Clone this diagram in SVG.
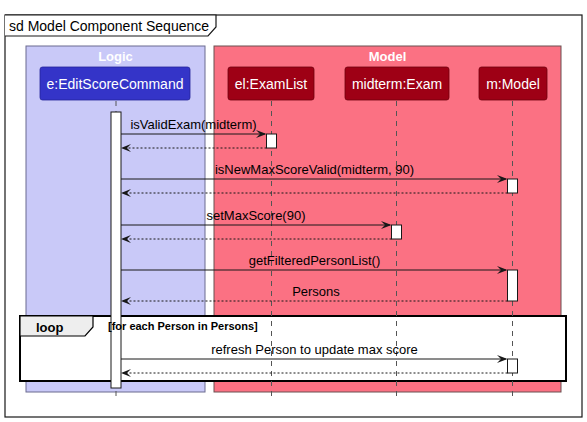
<svg xmlns="http://www.w3.org/2000/svg" width="587" height="422" viewBox="0 0 587 422">
<style>
text{font-family:"Liberation Sans",Arial,sans-serif}
.frame{fill:#fff;stroke:#181818;stroke-width:1.2}
.boxtitle{font-size:13px;font-weight:bold;fill:#fff;text-anchor:middle}
.part rect{stroke-width:0.8}
.part text{font-size:14px;fill:#fff;text-anchor:middle}
.pblue{fill:#3434C8;stroke:#24249A}
.pred{fill:#9E0015;stroke:#6E000E}
.life{stroke:#555;stroke-width:1;stroke-dasharray:5,5;fill:none}
.act{fill:#fff;stroke:#181818;stroke-width:1}
.msg{stroke:#181818;stroke-width:1;fill:none}
.ret{stroke:#181818;stroke-width:1;stroke-dasharray:2,2;fill:none}
.lbl{font-size:13px;fill:#000;text-anchor:middle}
.head{fill:#181818}
</style>
<rect class="frame" x="5" y="15" width="577" height="402"/>
<path d="M5,15 H216 V27 L208,36 H5" fill="#fff" stroke="#181818" stroke-width="1.2"/>
<text x="9" y="31" font-size="14" fill="#000">sd Model Component Sequence</text>

<g id="box-logic">
<rect x="26" y="46" width="179" height="346" fill="#C9C9F8" stroke="#6B6B8F" stroke-width="1"/>
<text class="boxtitle" x="115.5" y="61">Logic</text>
</g>
<g id="box-model">
<rect x="214" y="46" width="347" height="346" fill="#FB7183" stroke="#6B5050" stroke-width="1"/>
<text class="boxtitle" x="387.5" y="61">Model</text>
</g>

<g id="loop">
<rect x="20" y="316" width="546" height="65" fill="#fff" stroke="#000" stroke-width="2"/>
<path d="M20,316 H93 V327 L85,336 H20 Z" fill="#EEEEEE" stroke="#000" stroke-width="1.2"/>
<text x="36" y="332" font-size="13" font-weight="bold" fill="#000">loop</text>
</g>

<g id="lifelines">
<line class="life" x1="116" y1="101" x2="116" y2="397"/>
<line class="life" x1="271.5" y1="101" x2="271.5" y2="397"/>
<line class="life" x1="396.5" y1="101" x2="396.5" y2="397"/>
<line class="life" x1="512.5" y1="101" x2="512.5" y2="397"/>
</g>

<g id="p-editscore" class="part">
<rect class="pblue" x="40" y="67" width="150" height="33" rx="2.5"/>
<text x="115" y="89">e:EditScoreCommand</text>
</g>
<g id="p-examlist" class="part">
<rect class="pred" x="228" y="67" width="86" height="33" rx="2.5"/>
<text x="271" y="89">el:ExamList</text>
</g>
<g id="p-midterm" class="part">
<rect class="pred" x="345" y="67" width="104" height="33" rx="2.5"/>
<text x="397" y="89">midterm:Exam</text>
</g>
<g id="p-model" class="part">
<rect class="pred" x="479" y="67" width="68" height="33" rx="2.5"/>
<text x="513" y="89">m:Model</text>
</g>

<g id="activations">
<rect class="act" x="111" y="112" width="10" height="276"/>
<rect class="act" x="266.5" y="134" width="10" height="14"/>
<rect class="act" x="507.5" y="179" width="10" height="14"/>
<rect class="act" x="391.5" y="225" width="10" height="14"/>
<rect class="act" x="507.5" y="270" width="10" height="31"/>
<rect class="act" x="507.5" y="359" width="10" height="14"/>
</g>

<text x="108" y="330" font-size="11" font-weight="bold" fill="#000">[for each Person in Persons]</text>

<g id="connectors">
<line class="msg" x1="121" y1="134" x2="265" y2="134"/>
<path class="head" d="M266.5,134 L256,130 L260,134 L256,138 Z"/>
<line class="ret" x1="266.5" y1="148" x2="123" y2="148"/>
<path class="head" d="M121,148 L131,144 L127,148 L131,152 Z"/>

<line class="msg" x1="121" y1="179" x2="506" y2="179"/>
<path class="head" d="M507.5,179 L497,175 L501,179 L497,183 Z"/>
<line class="ret" x1="507.5" y1="193" x2="123" y2="193"/>
<path class="head" d="M121,193 L131,189 L127,193 L131,197 Z"/>

<line class="msg" x1="121" y1="225" x2="390" y2="225"/>
<path class="head" d="M391.5,225 L381,221 L385,225 L381,229 Z"/>
<line class="ret" x1="391.5" y1="239" x2="123" y2="239"/>
<path class="head" d="M121,239 L131,235 L127,239 L131,243 Z"/>

<line class="msg" x1="121" y1="270" x2="506" y2="270"/>
<path class="head" d="M507.5,270 L497,266 L501,270 L497,274 Z"/>
<line class="ret" x1="507.5" y1="301" x2="123" y2="301"/>
<path class="head" d="M121,301 L131,297 L127,301 L131,305 Z"/>

<line class="msg" x1="121" y1="359" x2="506" y2="359"/>
<path class="head" d="M507.5,359 L497,355 L501,359 L497,363 Z"/>
<line class="ret" x1="507.5" y1="373" x2="123" y2="373"/>
<path class="head" d="M121,373 L131,369 L127,373 L131,377 Z"/>

<text class="lbl" x="193.5" y="129">isValidExam(midterm)</text>
<text class="lbl" x="314.5" y="174">isNewMaxScoreValid(midterm, 90)</text>
<text class="lbl" x="256" y="220">setMaxScore(90)</text>
<text class="lbl" x="314.5" y="265">getFilteredPersonList()</text>
<text class="lbl" x="316" y="296">Persons</text>
<text class="lbl" x="314.5" y="354">refresh Person to update max score</text>
</g>
</svg>
